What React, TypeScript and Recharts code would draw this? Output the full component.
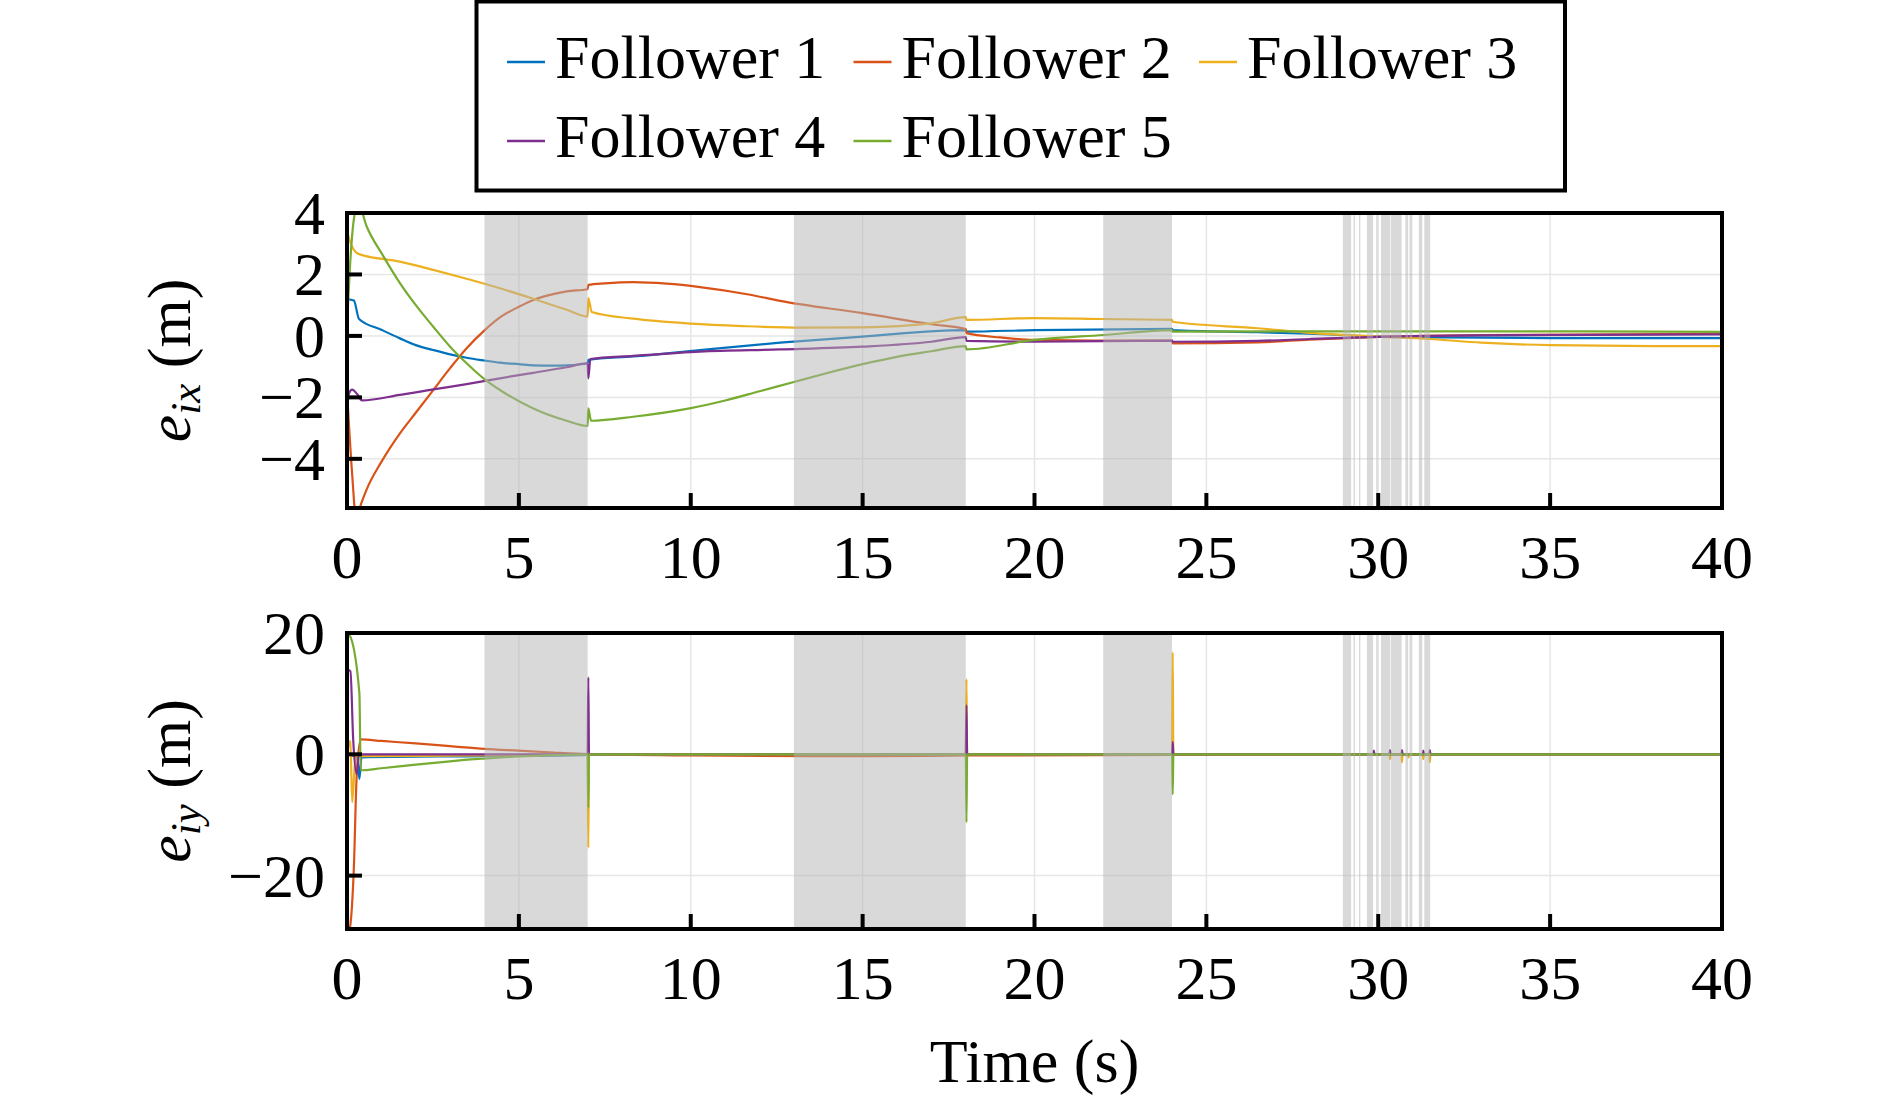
import React from 'react';
import { LineChart, Line, XAxis, YAxis, CartesianGrid, ReferenceArea } from 'recharts';

const FONT = '"Liberation Serif", "Times New Roman", serif';

// ---------- data ----------
const SERIES_NAMES = ['Follower 1', 'Follower 2', 'Follower 3', 'Follower 4', 'Follower 5'];
const SERIES_COLORS = ['#0072BD', '#D95319', '#EDB120', '#7E2F8E', '#77AC30'];

const X_TICKS = [0, 5, 10, 15, 20, 25, 30, 35, 40];
const X_DOMAIN: [number, number] = [0, 40];
const EX_Y_TICKS = [-4, -2, 0, 2, 4];
const EX_DOMAIN: [number, number] = [-5.6, 4];
const EY_Y_TICKS = [-20, 0, 20];
const EY_DOMAIN: [number, number] = [-28.8, 20];

// shaded time intervals [start, end] (s)
const BANDS: [number, number][] = [
  [4, 7], [13, 18], [22, 24],
  [28.97, 29.21], [29.28, 29.32], [29.44, 29.48], [29.67, 29.85], [29.94, 29.98],
  [30.08, 30.35], [30.37, 30.68], [30.79, 30.87], [30.91, 30.99], [31.18, 31.28], [31.34, 31.51],
];

// e_ix (m) : [time, value]
const EX_F1: [number, number][] = [
  [0, 1.2], [0.2, 1.15], [0.35, 0.55], [1, 0.2], [1.54, -0.08], [2, -0.3], [2.51, -0.46], [3, -0.6],
  [3.48, -0.71], [4, -0.8], [4.45, -0.87], [5, -0.92], [5.42, -0.96], [6, -0.97], [6.39, -0.96], [7, -0.89],
  [7.02, -0.78], [8.33, -0.67], [10.27, -0.46], [12.6, -0.22], [15, -0.02], [18, 0.19], [18.02, 0.14],
  [20, 0.19], [24, 0.23], [24.02, 0.19], [26.5, 0.12], [28, 0.07], [30, -0.02], [32, -0.05], [35, -0.07], [40, -0.07],
];
const EX_F2: [number, number][] = [
  [0, -1.8], [0.15, -4.5], [0.27, -6.0], [0.38, -5.57], [0.57, -5.0], [1, -4.1], [1.54, -3.17], [2, -2.5],
  [2.51, -1.76], [3, -1.05], [3.48, -0.4], [4, 0.18], [4.45, 0.6], [5, 0.95], [5.42, 1.17], [6, 1.36],
  [6.39, 1.45], [7, 1.52], [7.02, 1.66], [7.5, 1.71], [8.33, 1.75], [9.3, 1.7], [10.27, 1.59], [11.73, 1.34],
  [12.6, 1.14], [15, 0.74], [17, 0.38], [18, 0.22], [18.02, 0.09], [19, -0.05], [20, -0.13], [22, -0.15],
  [24, -0.15], [24.02, -0.24], [26.5, -0.21], [28, -0.12], [30, -0.03], [33, 0.03], [40, 0.07],
];
const EX_F3: [number, number][] = [
  [0, 3.4], [0.15, 2.9], [0.33, 2.67], [1.54, 2.42], [2.51, 2.15], [3.48, 1.86], [4.45, 1.55], [5.42, 1.21],
  [6.39, 0.85], [7, 0.63], [7.02, 1.23], [7.12, 0.78], [8.33, 0.56], [10, 0.4], [11.5, 0.32], [13.2, 0.27],
  [15, 0.28], [17, 0.41], [18, 0.61], [18.02, 0.52], [20, 0.58], [22, 0.55], [24, 0.52], [24.02, 0.46],
  [26.5, 0.25], [28, 0.1], [30, -0.02], [31.5, -0.1], [33, -0.22], [35, -0.3], [38, -0.33], [40, -0.33],
];
const EX_F4: [number, number][] = [
  [0, -2.5], [0.05, -1.9], [0.15, -1.75], [0.3, -1.9], [0.43, -2.1], [1.54, -1.92], [2.51, -1.74],
  [3.48, -1.57], [4.45, -1.38], [5.42, -1.2], [6.39, -1.02], [7, -0.89], [7.02, -1.38], [7.08, -0.75],
  [8.33, -0.65], [10.27, -0.51], [12.6, -0.44], [15, -0.35], [17, -0.19], [18, -0.04], [18.02, -0.16],
  [20, -0.19], [24, -0.15], [24.02, -0.19], [26.5, -0.16], [28, -0.1], [30, -0.03], [33, 0.02], [40, 0.05],
];
const EX_F5: [number, number][] = [
  [0, 0.3], [0.1, 2.5], [0.2, 3.8], [0.33, 4.3], [0.57, 3.57], [1.06, 2.59], [1.54, 1.72], [2.03, 0.96],
  [2.51, 0.3], [3.0, -0.35], [3.48, -0.89], [3.97, -1.38], [4.45, -1.76], [5.42, -2.36], [6.39, -2.76],
  [7, -2.93], [7.02, -2.36], [7.1, -2.76], [8.33, -2.63], [10, -2.35], [11, -2.1], [12, -1.8], [13, -1.5],
  [14, -1.2], [15, -0.92], [16, -0.68], [17, -0.5], [18, -0.33], [18.02, -0.44], [20, -0.13], [22, 0.03],
  [24, 0.19], [24.02, 0.14], [30, 0.15], [35, 0.15], [40, 0.13],
];

// e_iy (m) : [time, value]
const EY_F1: [number, number][] = [
  [0, 0], [0.3, -0.5], [0.36, -4.1], [0.42, -0.5], [4, -0.3], [7, -0.1], [7.05, 0], [40, 0],
];
const EY_F2: [number, number][] = [
  [0, -30], [0.09, -28.4], [0.2, -18.6], [0.28, -3.8], [0.4, 2.45], [1, 2.2], [2, 1.8], [3, 1.35],
  [4, 0.9], [5, 0.6], [6, 0.3], [7, 0.05], [10, -0.2], [15, -0.3], [18, -0.2], [24, -0.1], [30, 0], [40, 0],
];
const EY_F3: [number, number][] = [
  [0, 0], [0.1, 2.2], [0.15, -7.9], [0.25, -0.3], [4, -0.2], [7, 0], [7.02, -15.4], [7.04, 0],
  [18, 0], [18.02, 12.4], [18.04, 0], [24, 0], [24.02, 16.8], [24.04, 0],
  [30.33, 0], [30.34, -0.8], [30.36, 0], [30.68, 0], [30.69, -1.3], [30.71, 0], [30.87, 0], [30.88, -0.5],
  [30.9, 0], [31.3, 0], [31.31, -0.8], [31.33, 0], [31.49, 0], [31.5, -1.3], [31.52, 0], [40, 0],
];
const EY_F4: [number, number][] = [
  [0, 14], [0.1, 13.7], [0.18, 2.45], [0.28, -3.3], [0.35, 0], [7, 0], [7.02, 12.7], [7.04, 0],
  [18, 0], [18.02, 8.1], [18.04, 0], [24, 0], [24.02, 2.0], [24.04, 0],
  [29.86, 0], [29.87, 0.6], [29.89, 0], [30.33, 0], [30.34, 0.7], [30.36, 0], [30.68, 0], [30.69, 0.7],
  [30.71, 0], [31.3, 0], [31.31, 0.6], [31.33, 0], [31.49, 0], [31.5, 0.7], [31.52, 0], [40, 0],
];
const EY_F5: [number, number][] = [
  [0, 20], [0.07, 19.7], [0.36, 10.1], [0.4, -2.63], [1, -2.3], [2, -1.7], [3, -1.15], [3.6, -0.85],
  [4, -0.7], [5, -0.35], [6, -0.12], [7, 0], [7.02, -8.8], [7.04, 0], [18, 0], [18.02, -11.2], [18.04, 0],
  [24, 0], [24.02, -6.6], [24.04, 0], [40, 0],
];

const EX_SERIES = [EX_F1, EX_F2, EX_F3, EX_F4, EX_F5];
const EY_SERIES = [EY_F1, EY_F2, EY_F3, EY_F4, EY_F5];

// ---------- layout ----------
const W = 1890;
const TOP_H = 620;
const TOP_MARGIN = { top: 213, right: 168, bottom: 32, left: 247 };
const BOT_OFFSET = 560;
const BOT_H = 540;
const BOT_MARGIN = { top: 73, right: 168, bottom: 91, left: 247 };
const Y_AXIS_W = 100;
const X_AXIS_H = 80;
const FS = 62;

const fmt = (v: number) => (v < 0 ? `\u2212${Math.abs(v)}` : `${v}`);
const toPoints = (arr: [number, number][]) => arr.map(([t, v]) => ({ t, v }));

const XTick = (props: any) => {
  const { x, y, payload } = props;
  return (
    <g>
      <line x1={x} y1={y} x2={x} y2={y - 15} stroke="#000" strokeWidth={4} />
      <text x={x} y={y + 70} textAnchor="middle" fontSize={FS} fontFamily={FONT} fill="#000">
        {fmt(payload.value)}
      </text>
    </g>
  );
};

const YTick = (props: any) => {
  const { x, y, payload } = props;
  return (
    <g>
      <line x1={x} y1={y} x2={x + 15} y2={y} stroke="#000" strokeWidth={4} />
      <text x={x - 22} y={y + 21} textAnchor="end" fontSize={FS} fontFamily={FONT} fill="#000">
        {fmt(payload.value)}
      </text>
    </g>
  );
};

const makeYLabel = (sub: string, cy: number) => () => {
  const bx = 190;
  return (
    <text
      x={bx}
      y={cy}
      transform={`rotate(-90, ${bx}, ${cy})`}
      textAnchor="middle"
      fontSize={FS}
      fontFamily={FONT}
      fill="#000"
    >
      <tspan fontStyle="italic">e</tspan>
      <tspan fontStyle="italic" fontSize={43} dy={10}>{sub}</tspan>
      <tspan dy={-10}>{' (m)'}</tspan>
    </text>
  );
};

const makeTimeLabel = (cx: number, baseline: number) => () => (
  <text x={cx} y={baseline} textAnchor="middle" fontSize={FS} fontFamily={FONT} fill="#000">
    Time (s)
  </text>
);

function Panel(props: {
  height: number;
  margin: { top: number; right: number; bottom: number; left: number };
  yDomain: [number, number];
  yTicks: number[];
  series: [number, number][][];
  sub: string;
  timeLabel: boolean;
}) {
  const { height, margin, yDomain, yTicks, series, sub, timeLabel } = props;
  const plotTop = margin.top;
  const plotBottom = height - margin.bottom - X_AXIS_H;
  const plotLeft = margin.left + Y_AXIS_W;
  const plotRight = W - margin.right;
  const cy = (plotTop + plotBottom) / 2;
  return (
    <LineChart width={W} height={height} margin={margin} style={{ overflow: 'visible' }}>
      <CartesianGrid stroke="#e6e6e6" strokeWidth={1.5} />
      <XAxis
        dataKey="t"
        type="number"
        domain={X_DOMAIN}
        ticks={X_TICKS}
        interval={0}
        allowDataOverflow
        height={X_AXIS_H}
        tickLine={false}
        axisLine={false}
        tickSize={0}
        tickMargin={0}
        tick={XTick}
        label={timeLabel ? { content: makeTimeLabel((plotLeft + plotRight) / 2, plotBottom + 153) } : undefined}
      />
      <YAxis
        type="number"
        domain={yDomain}
        ticks={yTicks}
        interval={0}
        allowDataOverflow
        width={Y_AXIS_W}
        tickLine={false}
        axisLine={false}
        tickSize={0}
        tickMargin={0}
        tick={YTick}
        label={{ content: makeYLabel(sub, cy) }}
      />
      {series.map((d, i) => (
        <Line
          key={SERIES_NAMES[i]}
          name={SERIES_NAMES[i]}
          data={toPoints(d)}
          dataKey="v"
          type="monotone"
          stroke={SERIES_COLORS[i]}
          strokeWidth={2.2}
          dot={false}
          activeDot={false}
          isAnimationActive={false}
        />
      ))}
      {BANDS.map(([a, b], i) => (
        <ReferenceArea
          key={`band-${i}`}
          x1={a}
          x2={b}
          y1={yDomain[0]}
          y2={yDomain[1]}
          fill="#b3b3b3"
          fillOpacity={0.5}
          stroke="none"
          ifOverflow="visible"
          zIndex={450}
        />
      ))}
      <ReferenceArea
        x1={X_DOMAIN[0]}
        x2={X_DOMAIN[1]}
        y1={yDomain[0]}
        y2={yDomain[1]}
        fill="none"
        fillOpacity={0}
        stroke="#000"
        strokeWidth={4}
        ifOverflow="visible"
        zIndex={900}
      />
    </LineChart>
  );
}

const LEG_COL_X = [507, 853.5, 1199];
const LEG_ROW_BASE = [78, 157];

function LegendBox() {
  return (
    <svg width={W} height={200} style={{ position: 'absolute', left: 0, top: 0 }}>
      <rect x={476.5} y={1.5} width={1088.5} height={189} fill="#fff" stroke="#000" strokeWidth={4} />
      {SERIES_NAMES.map((name, i) => {
        const col = i % 3;
        const row = Math.floor(i / 3);
        const x = LEG_COL_X[col];
        const base = LEG_ROW_BASE[row];
        return (
          <g key={name}>
            <line x1={x} y1={base - 16} x2={x + 38} y2={base - 16} stroke={SERIES_COLORS[i]} strokeWidth={2.5} />
            <text x={x + 48} y={base} fontSize={FS} fontFamily={FONT} fill="#000">
              {name}
            </text>
          </g>
        );
      })}
    </svg>
  );
}

export default function App() {
  return (
    <div
      style={{
        position: 'absolute',
        left: 0,
        top: 0,
        width: W,
        height: 1100,
        background: '#fff',
        fontFamily: FONT,
        overflow: 'hidden',
      }}
    >
      <div style={{ position: 'absolute', left: 0, top: 0 }}>
        <Panel
          height={TOP_H}
          margin={TOP_MARGIN}
          yDomain={EX_DOMAIN}
          yTicks={EX_Y_TICKS}
          series={EX_SERIES}
          sub="ix"
          timeLabel={false}
        />
      </div>
      <div style={{ position: 'absolute', left: 0, top: BOT_OFFSET }}>
        <Panel
          height={BOT_H}
          margin={BOT_MARGIN}
          yDomain={EY_DOMAIN}
          yTicks={EY_Y_TICKS}
          series={EY_SERIES}
          sub="iy"
          timeLabel={true}
        />
      </div>
      <LegendBox />
    </div>
  );
}
